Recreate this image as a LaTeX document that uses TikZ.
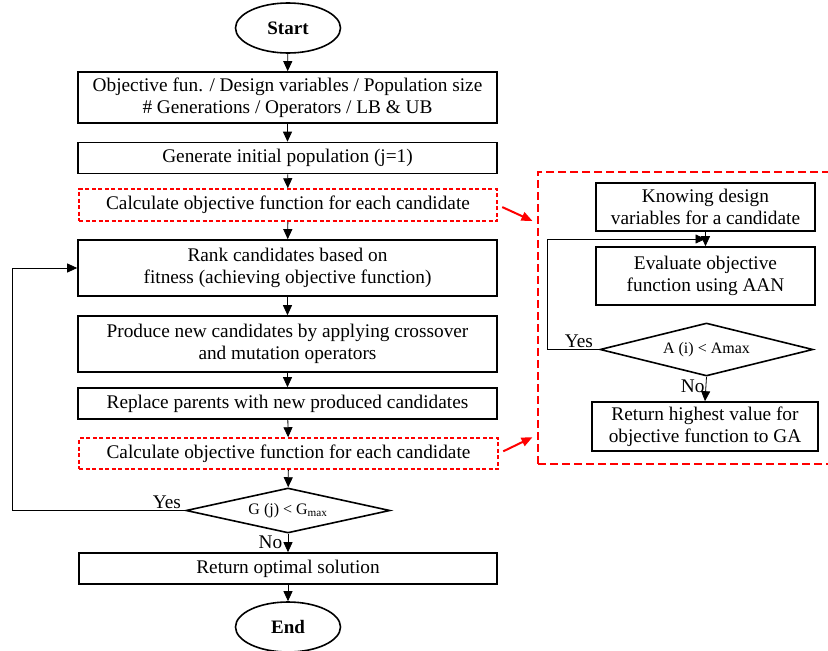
\documentclass[tikz,border=0pt]{standalone}
\usepackage{fontspec}
\setmainfont{Liberation Serif}
\usepackage{tikz}
\usetikzlibrary{calc,arrows.meta,shapes.geometric}

\tikzset{
	box/.style={draw, line width=1.6pt, align=center, inner sep=0pt, minimum height=31pt},
	redbox/.style={draw=red, line width=1.5pt, dash pattern=on 4pt off 2.5pt, align=center, inner sep=0pt, minimum height=31pt},
	term/.style={draw, ellipse, line width=1.6pt, minimum width=105pt, minimum height=50pt, inner sep=0pt, font=\fontsize{19}{22}\selectfont\bfseries},
	cond/.style={draw, diamond, aspect=4.5, line width=1.6pt, inner sep=0pt, font=\fontsize{16}{18}\selectfont},
	arr/.style={-{Triangle[length=10pt,width=9pt]}, line width=0.8pt},
	redarr/.style={-{Triangle[length=11pt,width=9pt]}, draw=red, line width=2pt, shorten <=5pt, shorten >=5pt}
}

\begin{document}
\begin{tikzpicture}[x=1pt, y=-1pt, font=\fontsize{19.3}{22}\selectfont]
			%%%%% START %%%%%
			\clip (0, 0) rectangle (828, 651);
			
			\node[term] (start) at (288, 28) {Start};
			\node[box, minimum width=419pt, minimum height=51pt] (setup) at (287.5, 97.5) {Objective fun. / Design variables / Population size\\\# Generations / Operators / LB \& UB};
			\node[box, minimum width=419pt] (init) at (287.5, 158) {Generate initial population (j=1)};
			\node[redbox, minimum width=418pt, minimum height=32pt] (calca) at (288, 205) {Calculate objective function for each candidate};
			\node[box, minimum width=419pt, minimum height=56pt] (rank) at (287.5, 268) {Rank candidates based on\\fitness (achieving objective function)};
			\node[box, minimum width=419pt, minimum height=56pt] (produce) at (287.5, 344) {Produce new candidates by applying crossover\\and mutation operators};
			\node[box, minimum width=419pt] (replace) at (287.5, 403.5) {Replace parents with new produced candidates};
			\node[redbox, minimum width=419pt] (calcb) at (288.5, 453.5) {Calculate objective function for each candidate};
			\node[cond, minimum width=204pt, minimum height=45pt] (gtest) at (288, 510.5) {G (j) < G\textsubscript{max}};
			\node[box, minimum width=418pt] (best) at (288, 568.5) {Return optimal solution};
			\node[term] (end) at (288, 627) {End};
			
			\draw[arr] (start) -- (setup);
			\draw[arr] (setup) -- (init);
			\draw[arr] (init) -- (calca);
			\draw[arr] (calca) -- (rank);
			\draw[arr] (rank) -- (produce);
			\draw[arr] (produce) -- (replace);
			\draw[arr] (replace) -- (calcb);
			\draw[arr] (calcb) -- (gtest);
			\draw[arr] (gtest) -- node[left, pos=0.45, xshift=-2pt] {No} (best);
			\draw[arr] (best) -- (end);
			
			\coordinate (gloop) at (12, 510.5);
			\draw[line width=0.8pt] (gtest.west) -- (gloop);
			\draw[arr] (gloop) |- (rank.west);
			\node[above left, inner sep=2pt, xshift=-2pt] at (gtest.west) {Yes};
			
			% ANN evaluation loop
			\node[draw=red, line width=2pt, dash pattern=on 8pt off 4pt, minimum width=300pt, minimum height=292pt] (panel) at (688, 318) {};
			
			\node[box, minimum width=219pt, minimum height=48pt] (know) at (705.5, 207) {Knowing design\\variables for a candidate};
			\node[box, minimum width=219pt, minimum height=58pt] (eval) at (705.5, 276) {Evaluate objective\\function using AAN};
			\node[cond, minimum width=213pt, minimum height=53pt] (atest) at (706.5, 349.5) {A (i) < Amax};
			\node[box, minimum width=226pt, minimum height=49pt] (high) at (705, 426.5) {Return highest value for\\objective function to GA};
			
			\coordinate (ajoin) at ($(know.south)!0.5!(eval.north)$);
			\coordinate (aloop) at (547, 349.5);
			\draw[arr] (know.south) -- (eval.north);
			\draw[line width=0.8pt] (atest.west) -- (aloop);
			\draw[arr] (aloop) |- (ajoin);
			\node[above left, inner sep=2pt, xshift=-4pt] at (atest.west) {Yes};
			\draw[arr] (atest.south) -- node[left, pos=0.4, inner sep=1pt] {No} (high.north);
			
			\draw[redarr] (calca.east) -- (panel.west |- 0, 223);
			\draw[redarr] (calcb.east) -- (panel.west |- 0, 435);
			%%%%% END %%%%%
\end{tikzpicture}
\end{document}
